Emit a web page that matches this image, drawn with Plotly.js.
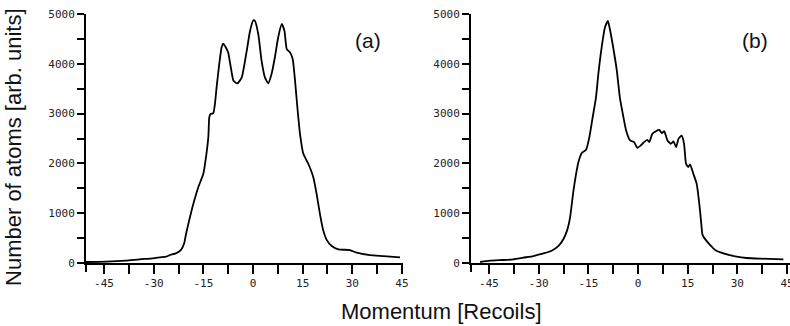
<!DOCTYPE html>
<html>
<head>
<meta charset="utf-8">
<script src="https://cdn.plot.ly/plotly-3.0.1.min.js"></script>
<style>html,body{margin:0;padding:0;background:#fff;}#chart{width:790px;height:326px;}</style>
</head>
<body>
<div id="chart"></div>
<script>
// Panel (a) momentum distribution
const momentumA = [-50.5, -44.4, -38.4, -34.3, -30.3, -28.1, -26.3, -25.1, -23.3, -21.8, -20.8, -20.2, -19.5, -18.0, -16.5, -15.0, -14.2, -13.5, -13.2, -12.8, -12.0, -11.5, -11.0, -10.2, -9.5, -9.0, -8.2, -7.5, -6.7, -5.9, -4.7, -3.4, -1.9, -0.9, 0.1, 0.6, 1.6, 2.6, 3.6, 4.6, 5.6, 6.6, 7.6, 8.7, 9.5, 10.2, 11.2, 12.0, 12.7, 13.4, 14.2, 15.2, 16.7, 18.2, 19.2, 20.2, 21.2, 22.3, 23.8, 25.8, 29.3, 31.3, 35.3, 39.4, 44.4];
const atomsA = [20, 27, 47, 73, 93, 113, 127, 160, 193, 260, 393, 593, 793, 1193, 1527, 1793, 2127, 2527, 2927, 2993, 3007, 3193, 3527, 3993, 4327, 4407, 4327, 4227, 3927, 3660, 3607, 3727, 4260, 4660, 4875, 4860, 4593, 4060, 3727, 3607, 3793, 4127, 4527, 4800, 4660, 4293, 4227, 4093, 3660, 3127, 2593, 2193, 1993, 1727, 1393, 993, 660, 460, 340, 273, 260, 207, 160, 140, 113];

// Panel (b) momentum distribution
const momentumB = [-47.7, -44.7, -40.7, -37.7, -34.7, -31.6, -28.6, -26.1, -24.1, -22.6, -21.4, -20.5, -19.5, -18.7, -18.0, -17.0, -15.7, -14.7, -13.7, -12.7, -12.0, -11.0, -10.0, -9.1, -8.5, -7.5, -6.4, -5.5, -4.6, -3.6, -2.4, -1.2, -0.2, 0.8, 1.8, 2.8, 3.4, 4.3, 5.4, 6.4, 7.2, 7.9, 8.9, 9.9, 10.7, 11.5, 12.2, 13.2, 13.9, 14.5, 15.2, 15.7, 16.7, 17.7, 18.5, 19.0, 19.5, 20.5, 21.8, 23.3, 25.8, 29.8, 32.8, 36.9, 43.9];
const atomsB = [20, 47, 60, 73, 107, 140, 193, 247, 340, 473, 660, 927, 1460, 1793, 2027, 2207, 2273, 2527, 2927, 3327, 3793, 4327, 4727, 4860, 4693, 4327, 3860, 3327, 2993, 2660, 2460, 2427, 2313, 2360, 2427, 2473, 2427, 2593, 2647, 2673, 2607, 2647, 2460, 2393, 2440, 2327, 2493, 2560, 2393, 1993, 1927, 1980, 1793, 1593, 1193, 860, 560, 460, 360, 260, 193, 127, 100, 87, 73];

// Tick values and labels
const xTickVals = [-45, -37.5, -30, -22.5, -15, -7.5, 0, 7.5, 15, 22.5, 30, 37.5, 45];
const xTickText = ['-45', '', '-30', '', '-15', '', '0', '', '15', '', '30', '', '45'];
const yTickVals = [0, 500, 1000, 1500, 2000, 2500, 3000, 3500, 4000, 4500, 5000];
const yTickText = ['0', '', '1000', '', '2000', '', '3000', '', '4000', '', '5000'];

const panelLabels = ['(a)', '(b)'];
const xTitle = 'Momentum [Recoils]';
const yTitle = 'Number of atoms [arb. units]';

const lineStyle = {color: '#000', width: 1.8, shape: 'spline', smoothing: 0.5};

const data = [
  {x: momentumA, y: atomsA, type: 'scatter', mode: 'lines', line: lineStyle, xaxis: 'x', yaxis: 'y', hoverinfo: 'skip'},
  {x: momentumB, y: atomsB, type: 'scatter', mode: 'lines', line: lineStyle, xaxis: 'x2', yaxis: 'y2', hoverinfo: 'skip'}
];

const tickFont = {family: 'DejaVu Sans Mono', size: 11, color: '#222'};
function xAx(domain, range, anchor) {
  return {domain: domain, range: range, anchor: anchor, tickmode: 'array', tickvals: xTickVals, ticktext: xTickText,
    ticks: 'outside', ticklen: 9, tickwidth: 2, tickcolor: '#000', showline: true, linewidth: 2, linecolor: '#000',
    zeroline: false, showgrid: false, tickfont: tickFont, fixedrange: true, ticklabeloverflow: 'allow'};
}
function yAx(anchor) {
  return {domain: [0, 1], range: [0, 5000], anchor: anchor, tickmode: 'array', tickvals: yTickVals, ticktext: yTickText,
    ticks: 'outside', ticklen: 7, tickwidth: 2, tickcolor: '#000', showline: true, linewidth: 2, linecolor: '#000',
    zeroline: false, showgrid: false, tickfont: tickFont, fixedrange: true, ticklabeloverflow: 'allow'};
}

const domA = [0, 0.4507];
const domB = [0.5469, 1];

const layout = {
  width: 790, height: 326,
  margin: {l: 86, r: 0, t: 14, b: 63, pad: 0},
  paper_bgcolor: '#fff', plot_bgcolor: '#fff',
  showlegend: false,
  xaxis: xAx(domA, [-50.45, 45.4], 'y'),
  yaxis: yAx('x'),
  xaxis2: xAx(domB, [-50.45, 45.9], 'y2'),
  yaxis2: yAx('x2'),
  shapes: [
    {type: 'line', xref: 'paper', yref: 'paper', x0: domA[0], x1: domA[0], y0: 0, y1: -9/249, line: {color: '#000', width: 2}},
    {type: 'line', xref: 'paper', yref: 'paper', x0: domB[0], x1: domB[0], y0: 0, y1: -9/249, line: {color: '#000', width: 2}}
  ],
  annotations: [
    {text: panelLabels[0], xref: 'paper', yref: 'paper', x: 0.3999, y: 0.8916, xanchor: 'center', yanchor: 'middle', showarrow: false,
      font: {family: 'Liberation Sans, Arial, sans-serif', size: 21, color: '#111'}},
    {text: panelLabels[1], xref: 'paper', yref: 'paper', x: 0.9503, y: 0.8916, xanchor: 'center', yanchor: 'middle', showarrow: false,
      font: {family: 'Liberation Sans, Arial, sans-serif', size: 21, color: '#111'}},
    {text: xTitle, xref: 'paper', yref: 'paper', x: 0.5053, y: -0.1928, xanchor: 'center', yanchor: 'middle', showarrow: false,
      font: {family: 'Liberation Sans, Arial, sans-serif', size: 22, color: '#111'}},
    {text: yTitle, xref: 'paper', yref: 'paper', x: -0.1023, y: 0.4659, xanchor: 'center', yanchor: 'middle', showarrow: false, textangle: -90,
      font: {family: 'Liberation Sans, Arial, sans-serif', size: 22, color: '#111'}}
  ]
};

Plotly.newPlot('chart', data, layout, {staticPlot: true, displayModeBar: false});
</script>
</body>
</html>
